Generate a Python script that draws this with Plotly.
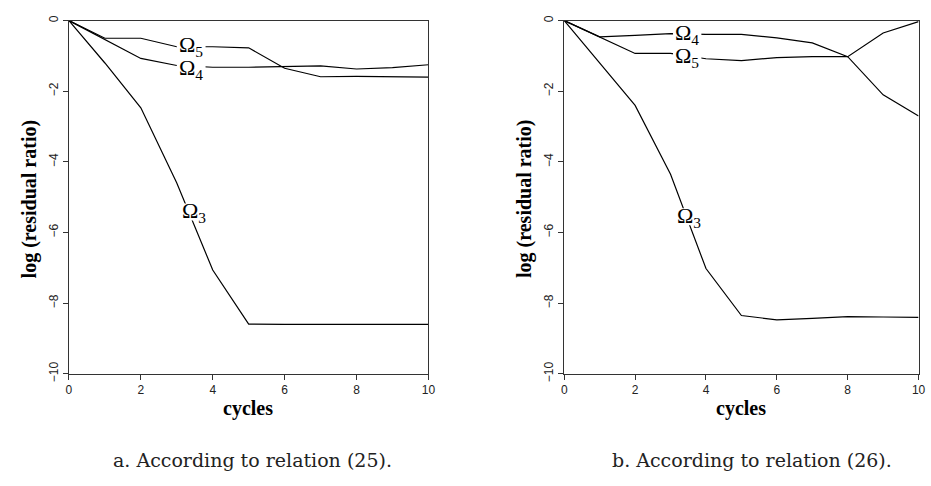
import plotly.graph_objects as go

cycles = [0, 1, 2, 3, 4, 5, 6, 7, 8, 9, 10]

a_om3 = [0, -1.2, -2.47, -4.6, -7.06, -8.59, -8.6, -8.6, -8.6, -8.6, -8.6]
a_om4 = [0, -0.53, -1.07, -1.27, -1.32, -1.32, -1.30, -1.28, -1.37, -1.33, -1.25]
a_om5 = [0, -0.5, -0.5, -0.74, -0.74, -0.77, -1.35, -1.59, -1.58, -1.6, -1.6]

b_om3 = [0, -1.2, -2.4, -4.35, -7.02, -8.35, -8.47, -8.43, -8.38, -8.39, -8.4]
b_om4 = [0, -0.46, -0.42, -0.37, -0.39, -0.39, -0.49, -0.63, -1.02, -2.1, -2.7]
b_om5 = [0, -0.46, -0.93, -0.93, -1.08, -1.13, -1.05, -1.02, -1.02, -0.35, -0.03]

x_ticks = [0, 2, 4, 6, 8, 10]
y_ticks = [0, -2, -4, -6, -8, -10]

# label positions (data coords) for the curve labels
a_labels = [("Ω<sub>5</sub>", 3.4, -0.72), ("Ω<sub>4</sub>", 3.4, -1.36), ("Ω<sub>3</sub>", 3.47, -5.42)]
b_labels = [("Ω<sub>4</sub>", 3.47, -0.37), ("Ω<sub>5</sub>", 3.47, -1.04), ("Ω<sub>3</sub>", 3.52, -5.55)]

ylabel = "log (residual ratio)"
xlabel = "cycles"
cap_a = "a. According to relation (25)."
cap_b = "b. According to relation (26)."

fig = go.Figure()
line = dict(color="black", width=1.2)
for ys in (a_om3, a_om4, a_om5):
    fig.add_trace(go.Scatter(x=cycles, y=ys, mode="lines", line=line, xaxis="x", yaxis="y", showlegend=False))
for ys in (b_om3, b_om4, b_om5):
    fig.add_trace(go.Scatter(x=cycles, y=ys, mode="lines", line=line, xaxis="x2", yaxis="y2", showlegend=False))

tickfont = dict(family="Liberation Sans", size=12, color="#222")
axcommon = dict(showline=True, linecolor="#333", linewidth=1, mirror=True, ticks="outside",
                ticklen=5, tickcolor="#333", showgrid=False, zeroline=False, tickfont=tickfont)

fig.update_layout(
    width=931, height=486, margin=dict(l=0, r=0, t=0, b=0),
    paper_bgcolor="white", plot_bgcolor="white",
    xaxis=dict(domain=[0.0716, 0.4619], range=[0, 10], tickvals=x_ticks, anchor="y", **axcommon),
    yaxis=dict(domain=[0.2202, 0.967], range=[-10, 0], tickvals=y_ticks, tickangle=-90, anchor="x", **axcommon),
    xaxis2=dict(domain=[0.6094, 0.9941], range=[0, 10], tickvals=x_ticks, anchor="y2", **axcommon),
    yaxis2=dict(domain=[0.2202, 0.967], range=[-10, 0], tickvals=y_ticks, tickangle=-90, anchor="x2", **axcommon),
)

lblfont = dict(family="Liberation Serif", size=22, color="black")
for labels, xr, yr in ((a_labels, "x", "y"), (b_labels, "x2", "y2")):
    for txt, x, y in labels:
        # white knock-out behind the label so the curve appears interrupted
        fig.add_shape(type="rect", xref=xr, yref=yr, x0=x - 0.4, x1=x + 0.4, y0=y - 0.24, y1=y + 0.24,
                      fillcolor="white", line=dict(width=0), layer="above")
        fig.add_annotation(x=x, y=y, xref=xr, yref=yr, text=txt, showarrow=False, font=lblfont,
                           xanchor="center", yanchor="middle")

titlefont = dict(family="Liberation Serif", size=20, color="black")
for xc in (27 / 931, 527 / 931):
    fig.add_annotation(x=xc, y=1 - 199 / 486, xref="paper", yref="paper", text="<b>" + ylabel + "</b>",
                       textangle=-90, showarrow=False, font=titlefont, xanchor="center", yanchor="middle")
for xc in (248 / 931, 746 / 931):
    fig.add_annotation(x=xc, y=1 - 415 / 486, xref="paper", yref="paper", text="<b>" + xlabel + "</b>",
                       showarrow=False, font=titlefont, xanchor="center", yanchor="middle")

capfont = dict(family="DejaVu Serif", size=19, color="#222")
fig.add_annotation(x=252 / 931, y=1 - 468 / 486, xref="paper", yref="paper", text=cap_a, showarrow=False,
                   font=capfont, xanchor="center", yanchor="middle")
fig.add_annotation(x=757 / 931, y=1 - 468 / 486, xref="paper", yref="paper", text=cap_b, showarrow=False,
                   font=capfont, xanchor="center", yanchor="middle")

fig.write_html("out.html")
